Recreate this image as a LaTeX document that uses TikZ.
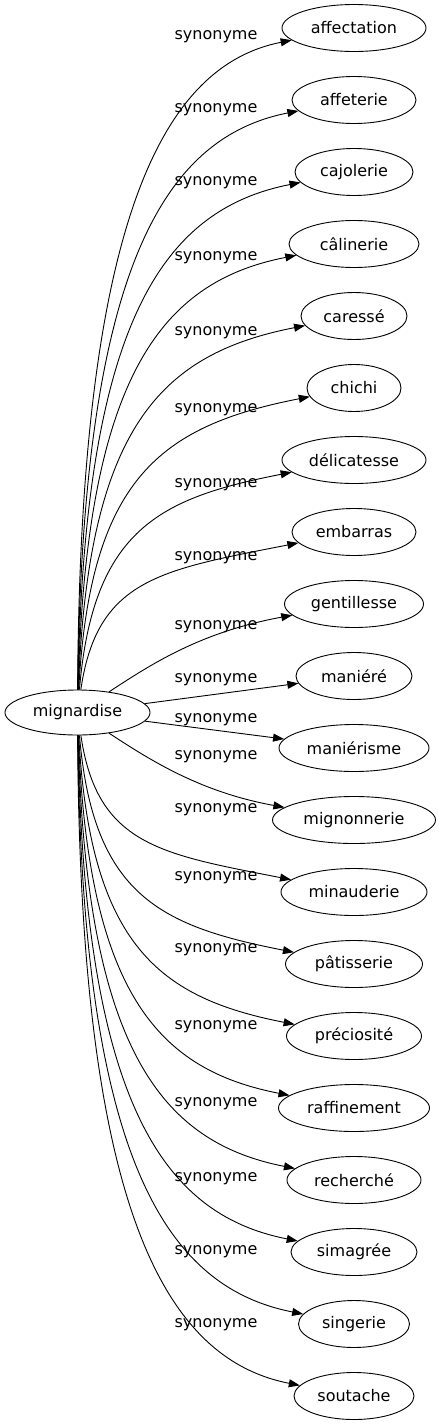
\documentclass[tikz,border=0pt]{standalone}
\usepackage{fontspec}
\setmainfont{DejaVu Sans}
\usetikzlibrary{shapes.geometric,arrows.meta}
\begin{document}
\begin{tikzpicture}[x=1pt,y=-1pt,
  word/.style={draw, ellipse, line width=0.9pt, minimum height=47pt, inner sep=1pt, font=\fontsize{16}{19}\selectfont},
  lab/.style={font=\fontsize{16}{19}\selectfont, inner sep=0pt},
  syn/.style={draw, line width=0.9pt, -{Triangle[length=11pt,width=8pt]}}]
\useasboundingbox (0,0) rectangle (439,1427);

\node[word, minimum width=145pt, minimum height=45pt] (m) at (77.5,712.5) {mignardise};

\node[word, minimum width=144pt] (t0) at (354,28) {affectation};
\node[word, minimum width=124pt] (t1) at (354,100) {affeterie};
\node[word, minimum width=118pt] (t2) at (354,172) {cajolerie};
\node[word, minimum width=130pt] (t3) at (354,244) {câlinerie};
\node[word, minimum width=106pt] (t4) at (354,316) {caressé};
\node[word, minimum width=94pt] (t5) at (354,388) {chichi};
\node[word, minimum width=144pt] (t6) at (354,460) {délicatesse};
\node[word, minimum width=124pt] (t7) at (354,532) {embarras};
\node[word, minimum width=139pt] (t8) at (354,604) {gentillesse};
\node[word, minimum width=116pt] (t9) at (354,676) {maniéré};
\node[word, minimum width=150pt] (t10) at (354,748) {maniérisme};
\node[word, minimum width=163pt] (t11) at (354,820) {mignonnerie};
\node[word, minimum width=146pt] (t12) at (354,892) {minauderie};
\node[word, minimum width=137pt] (t13) at (354,964) {pâtisserie};
\node[word, minimum width=135pt] (t14) at (354,1036) {préciosité};
\node[word, minimum width=151pt] (t15) at (354,1108) {raffinement};
\node[word, minimum width=134pt] (t16) at (354,1180) {recherché};
\node[word, minimum width=126pt] (t17) at (354,1252) {simagrée};
\node[word, minimum width=111pt] (t18) at (354,1324) {singerie};
\node[word, minimum width=120pt] (t19) at (354,1396) {soutache};

\path[syn] (m) .. controls (80,227) and (160,66) .. (t0);
\path[syn] (m) .. controls (82,277) and (160,138) .. (t1);
\path[syn] (m) .. controls (84,327) and (160,210) .. (t2);
\path[syn] (m) .. controls (86,378) and (160,282) .. (t3);
\path[syn] (m) .. controls (88,428) and (160,354) .. (t4);
\path[syn] (m) .. controls (90,479) and (160,426) .. (t5);
\path[syn] (m) .. controls (93,529) and (160,498) .. (t6);
\path[syn] (m) .. controls (97,579) and (160,570) .. (t7);
\path[syn] (m) .. controls (150,665) and (200,632) .. (t8);
\path[syn] (m) -- (t9);
\path[syn] (m) -- (t10);
\path[syn] (m) .. controls (150,760) and (200,792) .. (t11);
\path[syn] (m) .. controls (97,845) and (160,854) .. (t12);
\path[syn] (m) .. controls (93,895) and (160,926) .. (t13);
\path[syn] (m) .. controls (90,946) and (160,998) .. (t14);
\path[syn] (m) .. controls (88,996) and (160,1070) .. (t15);
\path[syn] (m) .. controls (86,1047) and (160,1142) .. (t16);
\path[syn] (m) .. controls (84,1097) and (160,1214) .. (t17);
\path[syn] (m) .. controls (82,1147) and (160,1286) .. (t18);
\path[syn] (m) .. controls (80,1198) and (160,1358) .. (t19);

\node[lab] (l0) at (216,37) {synonyme};
\node[lab] (l1) at (216,110) {synonyme};
\node[lab] (l2) at (216,183) {synonyme};
\node[lab] (l3) at (216,258) {synonyme};
\node[lab] (l4) at (216,333) {synonyme};
\node[lab] (l5) at (216,410) {synonyme};
\node[lab] (l6) at (216,485) {synonyme};
\node[lab] (l7) at (216,558) {synonyme};
\node[lab] (l8) at (216,627) {synonyme};
\node[lab] (l9) at (216,680) {synonyme};
\node[lab] (l10) at (216,720) {synonyme};
\node[lab] (l11) at (216,757) {synonyme};
\node[lab] (l12) at (216,810) {synonyme};
\node[lab] (l13) at (216,878) {synonyme};
\node[lab] (l14) at (216,950) {synonyme};
\node[lab] (l15) at (216,1027) {synonyme};
\node[lab] (l16) at (216,1104) {synonyme};
\node[lab] (l17) at (216,1179) {synonyme};
\node[lab] (l18) at (216,1252) {synonyme};
\node[lab] (l19) at (216,1325) {synonyme};
\end{tikzpicture}
\end{document}
